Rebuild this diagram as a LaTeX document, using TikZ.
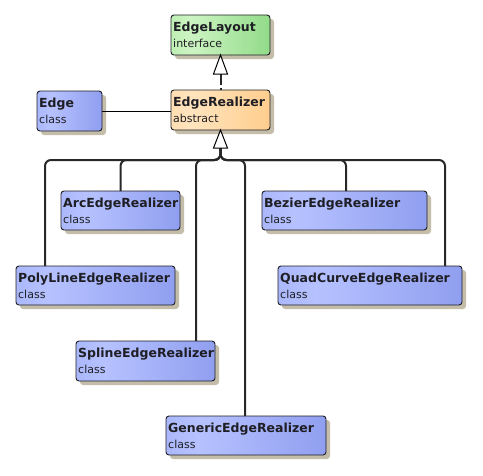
\documentclass[tikz,border=0pt]{standalone}
\usepackage{fontspec}
\setmainfont{DejaVu Sans}
\usetikzlibrary{shadows}
\definecolor{bA}{RGB}{140,156,240}
\definecolor{bB}{RGB}{182,194,255}
\definecolor{bC}{RGB}{120,136,230}
\definecolor{oA}{RGB}{255,206,146}
\definecolor{oB}{RGB}{255,228,190}
\definecolor{oC}{RGB}{255,192,112}
\definecolor{gA}{RGB}{150,226,140}
\definecolor{gB}{RGB}{205,244,195}
\definecolor{gC}{RGB}{108,204,100}
\definecolor{shd}{RGB}{186,178,156}
\definecolor{ink}{RGB}{30,30,36}
\definecolor{lne}{RGB}{40,40,40}
\pgfdeclarehorizontalshading{blueshade}{100bp}{color(0bp)=(bA); color(35bp)=(bB); color(100bp)=(bC)}
\pgfdeclarehorizontalshading{orangeshade}{100bp}{color(0bp)=(oA); color(35bp)=(oB); color(100bp)=(oC)}
\pgfdeclarehorizontalshading{greenshade}{100bp}{color(0bp)=(gA); color(35bp)=(gB); color(100bp)=(gC)}
\tikzset{
  umlbox/.style={draw=ink, line width=0.9pt, rounded corners=3pt, anchor=north west,
    inner sep=0pt, outer sep=0pt,
    drop shadow={shadow xshift=4pt, shadow yshift=-4pt, fill=shd, opacity=0.85}},
  bluebox/.style={umlbox, shading=blueshade},
  orangebox/.style={umlbox, shading=orangeshade},
  greenbox/.style={umlbox, shading=greenshade},
  ttl/.style={anchor=base west, inner sep=0pt, text=ink, font=\fontsize{12.5}{14}\selectfont\bfseries},
  subt/.style={anchor=base west, inner sep=0pt, text=ink, font=\fontsize{11}{13}\selectfont},
  inh/.style={draw=lne, line width=2pt, rounded corners=6pt},
  assoc/.style={draw=black, line width=1pt},
  real/.style={draw=lne, line width=2pt, dash pattern=on 11pt off 3pt on 1.5pt off 3pt},
  openhead/.style={draw=black, line width=1pt, fill=white, line join=miter}
}
% name, x, y, w, h, style, title, sub
\newcommand{\umlclass}[8]{%
  \node[#6, minimum width=#4pt, minimum height=#5pt] (#1) at (#2,#3) {};
  \node[ttl] (#1-t) at ([xshift=2pt,yshift=-16.5pt]#1.north west) {#7};
  \node[subt] (#1-s) at ([xshift=2pt,yshift=-32.5pt]#1.north west) {#8};
}
\begin{document}
\begin{tikzpicture}[x=1pt,y=-1pt]
\useasboundingbox (0,0) rectangle (483,475);
\fill[white] (0,0) rectangle (483,475);

\umlclass{lay}{171}{15}{99}{40}{greenbox}{EdgeLayout}{interface}
\umlclass{er}{171}{90}{99}{40}{orangebox}{EdgeRealizer}{abstract}
\umlclass{edge}{37}{91}{65}{40}{bluebox}{Edge}{class}
\umlclass{arc}{61}{191}{119}{39}{bluebox}{ArcEdgeRealizer}{class}
\umlclass{poly}{16}{266}{159}{39}{bluebox}{PolyLineEdgeRealizer}{class}
\umlclass{bez}{262}{191}{165}{39}{bluebox}{BezierEdgeRealizer}{class}
\umlclass{quad}{278}{266}{184}{39}{bluebox}{QuadCurveEdgeRealizer}{class}
\umlclass{spl}{76}{341}{139}{40}{bluebox}{SplineEdgeRealizer}{class}
\umlclass{gen}{166}{416}{160}{39}{bluebox}{GenericEdgeRealizer}{class}

% connector attach points
\coordinate (ab) at ([yshift=-18pt]er.south);
\coordinate (fk) at ([yshift=-30pt]er.south);
\coordinate (pArc) at (arc.north);
\coordinate (pPoly) at ([xshift=29pt]poly.north west);
\coordinate (pBez) at ([xshift=84pt]bez.north west);
\coordinate (pQuad) at ([xshift=167pt]quad.north west);
\coordinate (pSpl) at ([xshift=120pt]spl.north west);
\coordinate (pGen) at ([xshift=79pt]gen.north west);
\coordinate (rb) at ([yshift=-19pt]lay.south);

\begin{scope}[on background layer/.style={}]
\foreach \p in {pPoly,pArc,pSpl,pGen,pBez,pQuad}{
  \draw[inh] (ab) -- (fk) -- (fk -| \p) -- (\p);
}
\end{scope}

% association
\draw[assoc] (edge.east) -- (edge.east -| er.west);

% realization
\draw[real] (rb) -- (er.north);
\draw[openhead] (lay.south) -- ++(-7,19) -- ++(14,0) -- cycle;

% generalization head
\draw[openhead] (er.south) -- ++(-7,18) -- ++(14,0) -- cycle;
\end{tikzpicture}
\end{document}
